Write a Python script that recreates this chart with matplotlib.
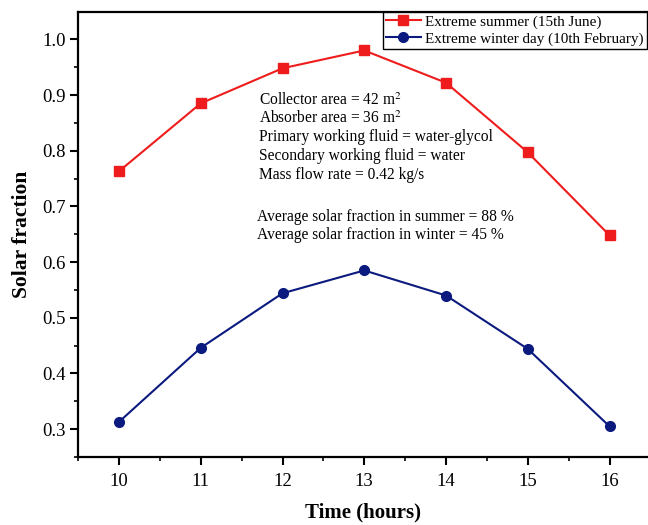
import matplotlib.pyplot as plt
from matplotlib.ticker import MultipleLocator

hours = [10, 11, 12, 13, 14, 15, 16]
summer = [0.763, 0.885, 0.948, 0.980, 0.922, 0.797, 0.648]
winter = [0.313, 0.446, 0.544, 0.585, 0.540, 0.444, 0.305]

specs = [
    "Collector area = 42 m$^2$",
    "Absorber area = 36 m$^2$",
    "Primary working fluid = water-glycol",
    "Secondary working fluid = water",
    "Mass flow rate = 0.42 kg/s",
]
averages = [
    "Average solar fraction in summer = 88 %",
    "Average solar fraction in winter = 45 %",
]

plt.rcParams['font.family'] = ['Liberation Serif', 'DejaVu Serif']
plt.rcParams['mathtext.fontset'] = 'stix'

fig = plt.figure(figsize=(6.48, 5.25), dpi=100)
ax = fig.add_axes([0.1205, 0.1295, 0.8795, 0.8476])

ax.plot(hours, summer, color='#ee1c1c', lw=1.5, marker='s', ms=7,
        label='Extreme summer (15th June)')
ax.plot(hours, winter, color='#0b1a7e', lw=1.5, marker='o', ms=7,
        label='Extreme winter day (10th February)')

ax.set_xlim(9.5, 16.47)
ax.set_ylim(0.25, 1.049)
ax.xaxis.set_major_locator(MultipleLocator(1))
ax.xaxis.set_minor_locator(MultipleLocator(0.5))
ax.yaxis.set_major_locator(MultipleLocator(0.1))
ax.yaxis.set_minor_locator(MultipleLocator(0.05))
ax.yaxis.set_major_formatter(plt.FormatStrFormatter('%.1f'))
ax.tick_params(which='major', direction='out', length=5.5, width=1.5, labelsize=13.5)
ax.tick_params(which='minor', direction='out', length=3, width=1.2)
ax.tick_params(axis='x', pad=6)

for side in ['left', 'bottom', 'top']:
    ax.spines[side].set_linewidth(1.6)
ax.spines['right'].set_visible(False)

ax.set_xlabel('Time (hours)', fontsize=15, fontweight='bold', labelpad=9)
ax.set_ylabel('Solar fraction', fontsize=15.5, fontweight='bold', labelpad=7)

# parameter notes inside the plot
y = 0.8903
for line in specs:
    ax.text(11.71, y, line, fontsize=11.2, va='center')
    y -= 0.0333
y = 0.6817
for line in averages:
    ax.text(11.69, y, line, fontsize=11.2, va='center')
    y -= 0.0327

leg = ax.legend(loc='upper right', bbox_to_anchor=(0.998, 1.0), fontsize=10.9,
                frameon=True, fancybox=False, edgecolor='black', framealpha=1,
                borderpad=0.2, handlelength=2.3, handletextpad=0.3, labelspacing=0.2,
                borderaxespad=0)
leg.get_frame().set_linewidth(1.0)

fig.savefig('out.png', dpi=100)
